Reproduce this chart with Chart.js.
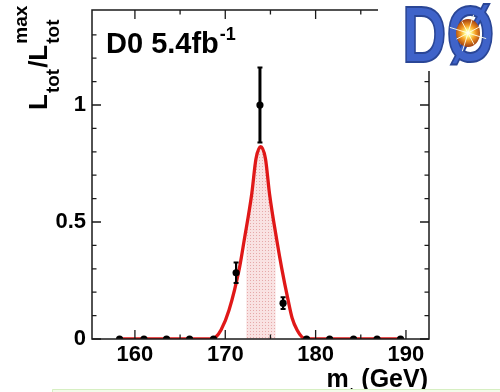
<!DOCTYPE html>
<html>
<head>
<meta charset="utf-8">
<script src="https://cdn.jsdelivr.net/npm/chart.js@4.4.1/dist/chart.umd.min.js"></script>
<style>
  html, body { margin: 0; padding: 0; background: #ffffff; }
  #wrap { width: 500px; height: 392px; position: relative; }
</style>
</head>
<body>
<div id="wrap"><canvas id="c" width="500" height="392"></canvas></div>
<script>
// ---- data ----
const massGeV     = [158.3, 161.0, 163.5, 166.05, 168.7, 171.2, 173.84, 176.4, 179.0, 181.55, 184.2, 186.8, 189.4];
const likelihood  = [0, 0, 0, 0, 0, 0.283, 1.0, 0.153, 0, 0, 0, 0, 0];
const likeErr     = [0, 0, 0, 0, 0, 0.044, 0.16, 0.025, 0, 0, 0, 0, 0];

const fitMass = [158.2, 161.0, 163.5, 166.0, 168.3, 168.95, 169.53, 170.42, 171.56, 172.1, 172.93, 173.4, 173.92, 174.45, 174.9, 175.7, 176.25, 176.95, 177.4, 177.95, 178.5, 179.1, 181.5, 184.0, 186.8, 189.4];
const fitLike = [0, 0, 0, 0, 0, 0.008, 0.038, 0.124, 0.302, 0.423, 0.62, 0.77, 0.822, 0.77, 0.62, 0.423, 0.302, 0.167, 0.09, 0.038, 0.008, 0, 0, 0, 0, 0];

const bandRange = [172.33, 175.57];

const xMajorTicks = [160, 170, 180, 190];
const xTickLabels = ['160', '170', '180', '190'];
const xMinorTicks = [165, 175, 185];
const yMajorTicks = [0, 0.5, 1];
const yTickLabels = ['0', '0.5', '1'];
const yMinorTicks = [0.1, 0.2, 0.3, 0.4, 0.6, 0.7, 0.8, 0.9, 1.1, 1.2, 1.3];

const FONT = '"Liberation Sans", Arial, Helvetica, sans-serif';

// dotted pink pattern for the band
function makePattern() {
  const p = document.createElement('canvas');
  p.width = 3; p.height = 3;
  const g = p.getContext('2d');
  g.fillStyle = '#f9e2e2';
  g.fillRect(0, 0, 3, 3);
  g.fillStyle = '#e6a9a9';
  g.fillRect(1, 1, 1, 1);
  return g.createPattern(p, 'repeat');
}
const bandFill = makePattern();

const BAND = 0;

const decor = {
  id: 'decor',
  beforeDatasetsDraw(chart) {
    const { ctx, chartArea: a, scales: { x } } = chart;
    const x0 = x.getPixelForValue(bandRange[0]);
    const x1 = x.getPixelForValue(bandRange[1]);
    ctx.save();
    ctx.beginPath();
    ctx.rect(x0, a.top, x1 - x0, a.bottom - a.top);
    ctx.clip();
  },
  afterDatasetDraw(chart, args) {
    if (args.index === BAND) chart.ctx.restore();
  },
  afterDatasetsDraw(chart) {
    const { ctx, chartArea: a, scales: { x, y } } = chart;
    // error bars
    ctx.save();
    ctx.strokeStyle = '#000';
    for (let i = 0; i < massGeV.length; i++) {
      const e = likeErr[i];
      if (!e) continue;
      const px = x.getPixelForValue(massGeV[i]);
      const yt = y.getPixelForValue(likelihood[i] + e);
      const yb = y.getPixelForValue(likelihood[i] - e);
      ctx.lineWidth = i === 6 ? 3 : 2.2;
      ctx.beginPath();
      ctx.moveTo(px, yt); ctx.lineTo(px, yb);
      ctx.stroke();
      ctx.lineWidth = 2;
      ctx.beginPath();
      ctx.moveTo(px - 2.5, yt); ctx.lineTo(px + 2.5, yt);
      ctx.moveTo(px - 2.5, yb); ctx.lineTo(px + 2.5, yb);
      ctx.stroke();
    }
    ctx.restore();

    // frame and inward ticks
    ctx.save();
    ctx.strokeStyle = '#1a1a1a';
    ctx.lineWidth = 1.5;
    ctx.strokeRect(a.left, a.top, a.right - a.left, a.bottom - a.top);
    ctx.lineWidth = 1.3;
    ctx.beginPath();
    const tickX = (v, len) => {
      const px = x.getPixelForValue(v);
      ctx.moveTo(px, a.bottom); ctx.lineTo(px, a.bottom - len);
      ctx.moveTo(px, a.top); ctx.lineTo(px, a.top + len);
    };
    const tickY = (v, len) => {
      const py = y.getPixelForValue(v);
      ctx.moveTo(a.left, py); ctx.lineTo(a.left + len, py);
      ctx.moveTo(a.right, py); ctx.lineTo(a.right - len, py);
    };
    xMajorTicks.forEach(v => tickX(v, 9));
    xMinorTicks.forEach(v => tickX(v, 4.5));
    yMajorTicks.forEach(v => tickY(v, 9));
    yMinorTicks.forEach(v => tickY(v, 4.5));
    ctx.stroke();
    ctx.restore();
  },
  afterDraw(chart) {
    const { ctx, chartArea: a } = chart;
    ctx.save();
    ctx.fillStyle = '#000';
    ctx.textBaseline = 'alphabetic';
    ctx.textAlign = 'left';

    // "D0 5.4fb^-1"
    ctx.font = 'bold 29px ' + FONT;
    let tx = 106;
    ctx.fillText('D0 5.4fb', tx, 53);
    tx += ctx.measureText('D0 5.4fb').width + 1;
    ctx.font = 'bold 18px ' + FONT;
    ctx.fillText('-1', tx, 40);

    // y title: L_tot / L_tot^max (rotated)
    ctx.save();
    ctx.translate(47, 110);
    ctx.rotate(-Math.PI / 2);
    let lx = 0;
    ctx.font = 'bold 26px ' + FONT;
    ctx.fillText('L', lx, 0); lx += ctx.measureText('L').width + 1;
    ctx.font = 'bold 19px ' + FONT;
    ctx.fillText('tot', lx, 12); lx += ctx.measureText('tot').width + 1;
    ctx.font = 'bold 26px ' + FONT;
    ctx.fillText('/', lx, 0); lx += ctx.measureText('/').width;
    ctx.fillText('L', lx, 0); lx += ctx.measureText('L').width + 1;
    ctx.font = 'bold 19px ' + FONT;
    ctx.fillText('tot', lx, 12);
    ctx.fillText('max', lx, -20);
    ctx.restore();

    // x title: m_t (GeV), right-aligned to axis end
    ctx.font = 'bold 25px ' + FONT;
    const part2 = ' (GeV)';
    const w2 = ctx.measureText(part2).width;
    const wm = ctx.measureText('m').width;
    ctx.font = 'bold 17px ' + FONT;
    const wt = ctx.measureText('t').width;
    const right = a.right - 1;
    const startX = right - w2 - wt - wm;
    ctx.font = 'bold 25px ' + FONT;
    ctx.fillText('m', startX, 387);
    ctx.fillText(part2, startX + wm + wt, 387);
    ctx.font = 'bold 17px ' + FONT;
    ctx.fillText('t', startX + wm, 399);

    // green note box at bottom
    ctx.fillStyle = '#f3fbea';
    ctx.fillRect(52, 389, 448, 4);
    ctx.strokeStyle = '#d6efc2';
    ctx.lineWidth = 1;
    ctx.beginPath();
    ctx.moveTo(52.5, 393); ctx.lineTo(52.5, 389.5); ctx.lineTo(500, 389.5);
    ctx.stroke();

    // DØ logo (top right)
    ctx.fillStyle = '#ffffff';
    ctx.fillRect(378, 0, 122, 71);
    ctx.save();
    ctx.translate(402, 62);
    ctx.scale(0.78, 1);
    ctx.font = 'bold 79px ' + FONT;
    ctx.fillStyle = '#3f63c9';
    ctx.strokeStyle = '#2a4696';
    ctx.lineWidth = 2;
    ctx.fillText('DØ', 0, 0);
    ctx.strokeText('DØ', 0, 0);
    ctx.restore();
    const cx = 468, cy = 33;
    const g = ctx.createRadialGradient(cx, cy, 0, cx, cy, 14);
    g.addColorStop(0, '#ffffff');
    g.addColorStop(0.25, '#fff27a');
    g.addColorStop(0.55, '#f39a22');
    g.addColorStop(1, '#9c3a10');
    ctx.fillStyle = g;
    ctx.beginPath();
    ctx.ellipse(cx, cy, 12, 14, 0, 0, Math.PI * 2);
    ctx.fill();
    ctx.strokeStyle = 'rgba(255,255,235,0.9)';
    ctx.lineWidth = 1;
    ctx.beginPath();
    for (let k = 0; k < 8; k++) {
      const ang = k * Math.PI / 4 + 0.3;
      const r = k % 2 ? 13 : 19;
      ctx.moveTo(cx, cy);
      ctx.lineTo(cx + Math.cos(ang) * r, cy + Math.sin(ang) * r);
    }
    ctx.stroke();
    ctx.restore();
  }
};

const toXY = (xs, ys) => xs.map((v, i) => ({ x: v, y: ys[i] }));

new Chart(document.getElementById('c'), {
  type: 'scatter',
  data: {
    datasets: [
      {
        label: 'band',
        data: toXY(fitMass, fitLike),
        showLine: true,
        fill: 'origin',
        backgroundColor: bandFill,
        borderWidth: 0,
        borderColor: 'rgba(0,0,0,0)',
        pointRadius: 0,
        cubicInterpolationMode: 'monotone',
        order: 3
      },
      {
        label: 'fit',
        data: toXY(fitMass, fitLike),
        showLine: true,
        fill: false,
        borderColor: '#e01818',
        borderWidth: 3.3,
        pointRadius: 0,
        cubicInterpolationMode: 'monotone',
        order: 2
      },
      {
        label: 'points',
        data: toXY(massGeV, likelihood),
        showLine: false,
        pointRadius: 3.6,
        pointBackgroundColor: '#000',
        pointBorderColor: '#000',
        pointBorderWidth: 0,
        order: 1
      }
    ]
  },
  options: {
    responsive: false,
    animation: false,
    devicePixelRatio: 1,
    layout: { padding: { top: 10, right: 71, left: 0, bottom: 0 } },
    plugins: { legend: { display: false }, tooltip: { enabled: false } },
    scales: {
      x: {
        type: 'linear',
        min: 155.25,
        max: 192.55,
        grid: { display: false, drawTicks: false },
        border: { display: false },
        afterBuildTicks: s => { s.ticks = xMajorTicks.map(v => ({ value: v })); },
        afterFit: s => { s.height = 53; s.paddingLeft = 0; s.paddingRight = 0; },
        ticks: {
          autoSkip: false,
          maxRotation: 0,
          padding: 3,
          color: '#000',
          font: { family: FONT, size: 22, weight: 'bold' },
          callback: (v, i) => xTickLabels[i]
        }
      },
      y: {
        type: 'linear',
        min: 0,
        max: 1.406,
        grid: { display: false, drawTicks: false },
        border: { display: false },
        afterBuildTicks: s => { s.ticks = yMajorTicks.map(v => ({ value: v })); },
        afterFit: s => { s.width = 92; s.paddingTop = 0; s.paddingBottom = 0; },
        ticks: {
          padding: 6,
          color: '#000',
          font: { family: FONT, size: 22, weight: 'bold' },
          callback: (v, i) => yTickLabels[i]
        }
      }
    }
  },
  plugins: [decor]
});
</script>
</body>
</html>
